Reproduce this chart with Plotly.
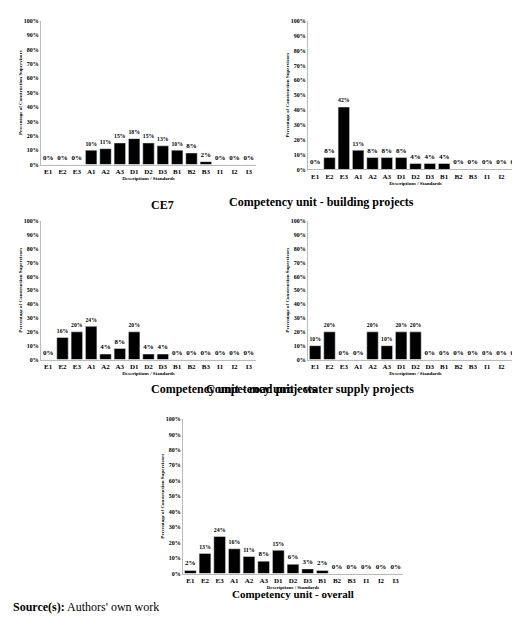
import plotly.graph_objects as go

cats = ["E1","E2","E3","A1","A2","A3","D1","D2","D3","B1","B2","B3","I1","I2","I3"]
ce7 = [0,0,0,10,11,15,18,15,13,10,8,2,0,0,0]
building = [0,8,42,13,8,8,8,4,4,4,0,0,0,0,0]
road = [0,16,20,24,4,8,20,4,4,0,0,0,0,0,0]
water = [10,20,0,0,20,10,20,20,0,0,0,0,0,0,0]
overall = [2,13,24,16,11,8,15,6,3,2,0,0,0,0,0]
yticks = [0,10,20,30,40,50,60,70,80,90,100]
titles = ["CE7","Competency unit - building projects","Competency unit - road projects",
          "Competency unit - water supply projects","Competency unit - overall"]
series = [ce7, building, road, water, overall]

H = 621.0
W = 520.0
boxes = [(33,248,10,155,187),(300,515,10,160,184),(33,248,212,352,382),
         (300,515,212,352,382),(175,395,412,568,597)]
F = "Liberation Serif"
fig = go.Figure()
for i,(vals,t,(x0,x1,yt,yb,ty)) in enumerate(zip(series,titles,boxes)):
    n = "" if i == 0 else str(i+1)
    fig.add_trace(go.Bar(x=cats, y=vals, marker_color="black", width=0.8,
        text=[f"<b>{v}%</b>" for v in vals], textposition="outside", cliponaxis=False,
        textfont=dict(family=F, size=7, color="black"),
        xaxis="x"+n, yaxis="y"+n, showlegend=False))
    fig.update_layout(**{
        "xaxis"+n: dict(domain=[x0/W, x1/W], anchor="y"+n, showline=True, linecolor="#bbb",
            tickmode="array", tickvals=cats, ticktext=[f"<b>{c}</b>" for c in cats],
            tickfont=dict(family=F, size=7, color="black"), ticks="",
            title=dict(text="<b>Descriptions / Standards</b>", font=dict(family=F, size=5, color="black"), standoff=1)),
        "yaxis"+n: dict(domain=[1-yb/H, 1-yt/H], anchor="x"+n, range=[0,100],
            tickmode="array", tickvals=yticks, ticktext=[f"<b>{v}%</b>" for v in yticks],
            showgrid=False, showline=True, linecolor="#bbb", zeroline=False,
            tickfont=dict(family=F, size=6, color="black"),
            title=dict(text="<b>Percentage of Construction Supervisors</b>", font=dict(family=F, size=5, color="black"), standoff=1)),
    })
    fig.add_annotation(text=f"<b>{t}</b>", x=(x0+x1)/2/W, y=1-ty/H, xref="paper", yref="paper",
        showarrow=False, font=dict(family=F, size=12 if i < 4 else 11, color="black"))
fig.add_annotation(text="<b>Source(s):</b> Authors' own work", x=0.005, y=1-611/H, xref="paper", yref="paper",
    xanchor="left", showarrow=False, font=dict(family=F, size=12, color="black"))
fig.update_layout(width=520, height=621, margin=dict(l=0,r=0,t=0,b=0), plot_bgcolor="white",
    paper_bgcolor="white", font=dict(family=F))
fig.write_html("out.html")
